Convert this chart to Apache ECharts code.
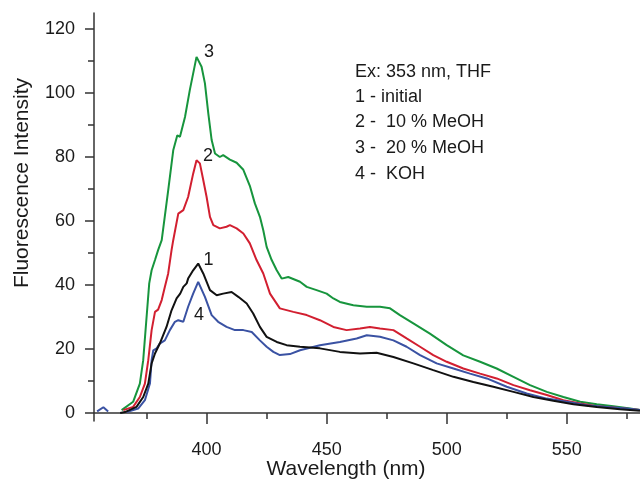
<!DOCTYPE html>
<html><head><meta charset="utf-8">
<script src="https://cdn.jsdelivr.net/npm/echarts@6/dist/echarts.min.js"></script>
<style>html,body{margin:0;padding:0;background:#fff}#c{width:640px;height:490px}</style>
</head><body><div id="c"></div>
<script>
// Tick values
const xLabelValues = [400, 450, 500, 550];
const xMinorTicks = [375, 425, 475, 525, 575];
const yLabelValues = [0, 20, 40, 60, 80, 100, 120];
const yMinorTicks = [10, 30, 50, 70, 90, 110];

// Series names and legend text
const seriesNames = ['1', '2', '3', '4'];
const legendLines = ['Ex: 353 nm, THF', '1 - initial', '2 -  10 % MeOH', '3 -  20 % MeOH', '4 -  KOH'];

// [wavelength nm, intensity]
const curveInitial = [[364,0],[366,0.3],[370.8,1.9],[373.6,5],[375.7,9.2],[377.1,15.5],[378.5,18.6],[380.5,21.7],[383.3,26.9],[385.4,32.1],[387.5,35.8],[389,37.3],[390.3,39.4],[391.7,40.5],[392.3,42],[394.4,44.6],[396.5,46.7],[398.6,43.6],[401.4,38.4],[404.2,36.8],[406.9,37.3],[410.4,37.8],[413.2,36.3],[416.7,34.2],[419.4,31.1],[422.2,26.9],[425,23.8],[429.2,22.2],[433.3,21.2],[438.9,20.7],[447.2,20.2],[455.5,19.1],[463.9,18.6],[470.8,18.8],[477.8,17.5],[486.1,15.5],[494.4,13.4],[502.8,11.3],[511.1,9.7],[519.4,8.2],[527.8,6.6],[536.1,5],[544.4,3.8],[552.8,2.75],[562.5,1.9],[572.2,1.2],[580.5,0.7]];
const curveMeOH10 = [[365.3,0.9],[369.4,1.9],[372.2,5],[374.3,9.2],[375.7,16.5],[377.1,25.9],[378.5,31.6],[379.8,32.3],[381.3,35.3],[382.6,39.4],[384,43.6],[385.4,50.9],[386.1,54],[388.2,62.3],[390.3,63.4],[392.3,67.5],[394.4,74.8],[395.8,79],[397.2,78],[398.6,72.8],[400,67.5],[401.4,61.3],[402.8,58.7],[405.5,57.7],[408.3,58.2],[409.7,58.7],[412.5,57.7],[415.3,56.1],[418,53],[420.8,47.8],[423.6,43.6],[426.4,37.3],[430.5,32.7],[436.1,31.6],[441.7,30.6],[447.2,29],[452.8,26.9],[458.3,25.9],[463.9,26.4],[468,26.9],[472.2,26.4],[477.8,25.9],[483.3,23.3],[488.9,20.7],[494.4,18.1],[500,16],[506.9,13.9],[513.9,12.3],[520.8,10.8],[527.8,8.7],[534.7,7.1],[541.7,5.6],[548.6,4],[555.6,3],[562.5,2.1],[569.4,1.7],[580.5,0.9]];
const curveMeOH20 = [[364.6,0.9],[369.4,3.5],[372.2,9.2],[373.6,16.5],[375,30],[376.1,40.5],[377.1,44.6],[378.5,47.8],[379.8,50.9],[381.3,54],[384,69.6],[386.1,82.1],[387.8,86.8],[388.9,86.3],[391,92.5],[393,100.9],[395.8,111.3],[396.5,111.8],[397.9,108.2],[399.3,103],[400.7,93.6],[402.1,85.3],[403.5,81.1],[405.5,80],[406.9,80.6],[409.7,79.2],[412.5,78.2],[415.3,76],[418,71],[420.1,65.5],[422.2,61.3],[423.6,57.1],[425,51.9],[427.1,47.8],[429.2,44.6],[431.25,42],[434,42.5],[438.9,41],[441.7,39.4],[445.8,38.4],[450,37.3],[452.8,35.8],[455.5,34.7],[461.1,33.7],[466.7,33.2],[472.2,33.2],[476.4,32.7],[480.5,30.6],[486.1,28],[493,24.8],[500,21.2],[506.9,18],[513.9,16],[520.8,13.9],[527.8,11.3],[534.7,8.7],[541.7,6.6],[548.6,5],[555.6,3.5],[562.5,2.75],[569.4,2.1],[576.4,1.4],[580.5,0.9]];
const curveKOH = [[354.4,0.5],[357,1.8],[359,0.5],[362,null],[366.7,0.3],[371.5,1.4],[374.3,4],[376.4,9.2],[377.1,16.5],[377.8,19.6],[379.2,20.2],[380.5,21.7],[382.6,22.7],[384.7,25.9],[386.8,28.5],[388.2,29],[390.3,28.5],[392.3,33.2],[394.4,37.3],[396.5,41],[399.3,36.3],[402.1,30.6],[404.8,28.5],[408.3,26.9],[411.8,25.9],[415.3,25.9],[418.8,25.3],[422.2,22.7],[425,20.7],[427.8,19.1],[430.5,18.1],[434.7,18.4],[438.9,19.6],[447.2,21.2],[455.5,22.2],[462.5,23.3],[466.7,24.3],[472.2,23.8],[477.8,22.7],[483.3,20.7],[488.9,18.1],[495.8,15.5],[502.8,13.9],[509.7,12.3],[516.7,10.8],[525,8.2],[533.3,6.1],[541.7,4.5],[550,3.5],[558.3,2.4],[566.7,1.9],[575,1.4],[580.5,0.9]];

const FONT = '"Liberation Sans", Arial, Helvetica, sans-serif';
const AXIS_COLOR = '#333';
const TEXT_COLOR = '#1a1a1a';

const chart = echarts.init(document.getElementById('c'), null, {renderer: 'canvas'});

function line(name, data, color) {
  return {
    name: name, type: 'line', data: data, showSymbol: false, symbol: 'none',
    connectNulls: false, lineStyle: {color: color, width: 2}, itemStyle: {color: color},
    xAxisIndex: 0, yAxisIndex: 0, animation: false, z: 2
  };
}

const legendGraphics = legendLines.map((t, i) => ({
  type: 'text', x: 355, y: [72, 97, 122.5, 148.5, 174.5][i],
  style: {text: t, font: '18px ' + FONT, fill: TEXT_COLOR, align: 'left', verticalAlign: 'middle'}
}));

const peakLabels = [
  {t: '3', x: 209, y: 52},
  {t: '2', x: 208, y: 156},
  {t: '1', x: 208.5, y: 260},
  {t: '4', x: 199, y: 315}
].map(p => ({
  type: 'text', x: p.x, y: p.y,
  style: {text: p.t, font: '18px ' + FONT, fill: TEXT_COLOR, align: 'center', verticalAlign: 'middle'}
}));

chart.setOption({
  animation: false,
  backgroundColor: '#fff',
  grid: {left: 94, right: 0, top: 13, bottom: 69, containLabel: false},
  xAxis: [{
    type: 'value', min: 353.1, max: 580.5,
    axisLine: {show: true, lineStyle: {color: AXIS_COLOR, width: 1.5}},
    axisTick: {show: true, inside: false, length: 11, customValues: xLabelValues, lineStyle: {color: AXIS_COLOR, width: 1.5}},
    axisLabel: {show: true, customValues: xLabelValues, margin: 20, fontSize: 18, fontFamily: FONT, color: TEXT_COLOR},
    splitLine: {show: false}
  }, {
    type: 'value', min: 353.1, max: 580.5, position: 'bottom', gridIndex: 0,
    axisLine: {show: false},
    axisTick: {show: true, inside: false, length: 6, customValues: xMinorTicks, lineStyle: {color: AXIS_COLOR, width: 1.5}},
    axisLabel: {show: false},
    splitLine: {show: false}
  }],
  yAxis: [{
    type: 'value', min: -2.5, max: 125,
    axisLine: {show: true, lineStyle: {color: AXIS_COLOR, width: 1.5}},
    axisTick: {show: true, inside: false, length: 9, customValues: yLabelValues, lineStyle: {color: AXIS_COLOR, width: 1.5}},
    axisLabel: {show: true, customValues: yLabelValues, margin: 19, fontSize: 18, fontFamily: FONT, color: TEXT_COLOR},
    splitLine: {show: false}
  }, {
    type: 'value', min: -2.5, max: 125, position: 'left', gridIndex: 0,
    axisLine: {show: false},
    axisTick: {show: true, inside: false, length: 6, customValues: yMinorTicks, lineStyle: {color: AXIS_COLOR, width: 1.5}},
    axisLabel: {show: false},
    splitLine: {show: false}
  }],
  series: [
    line(seriesNames[2], curveMeOH20, '#17953d'),
    line(seriesNames[1], curveMeOH10, '#d21f30'),
    line(seriesNames[3], curveKOH, '#3a52a3'),
    line(seriesNames[0], curveInitial, '#111111')
  ],
  graphic: [
    {type: 'text', x: 346, y: 469, style: {text: 'Wavelength (nm)', font: '21px ' + FONT, fill: TEXT_COLOR, align: 'center', verticalAlign: 'middle'}},
    {type: 'text', x: 22, y: 183, rotation: Math.PI / 2, style: {text: 'Fluorescence Intensity', font: '21px ' + FONT, fill: TEXT_COLOR, align: 'center', verticalAlign: 'middle'}}
  ].concat(legendGraphics, peakLabels)
});
</script>
</body></html>
